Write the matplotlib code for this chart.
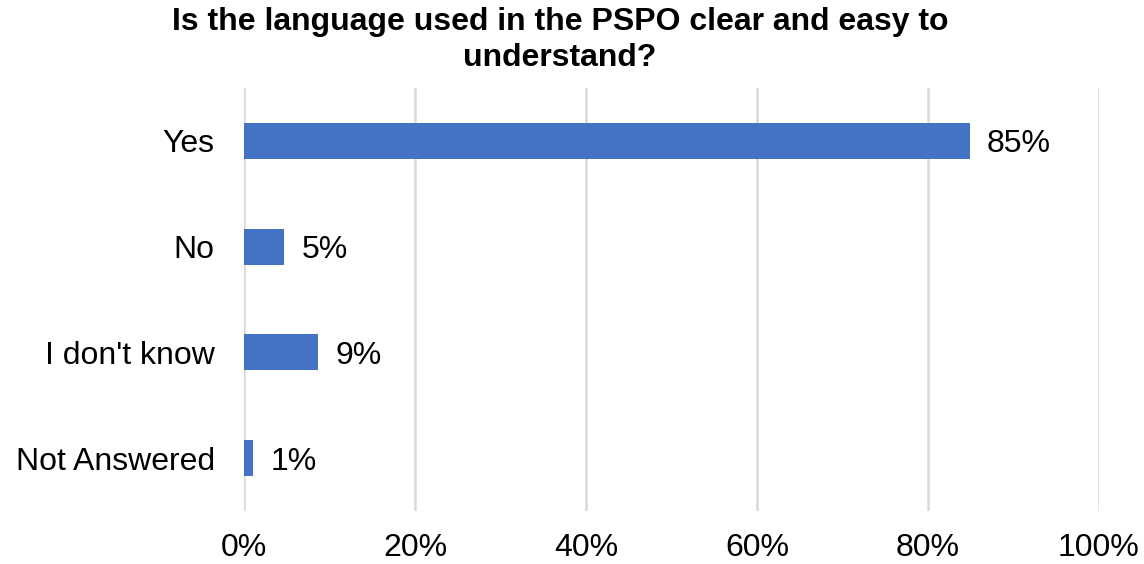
import matplotlib.pyplot as plt
from matplotlib.ticker import FuncFormatter

categories = ["Yes", "No", "I don't know", "Not Answered"]
shares = [0.849, 0.047, 0.087, 0.011]
labels = ["85%", "5%", "9%", "1%"]
ticks = [0, 0.2, 0.4, 0.6, 0.8, 1.0]

plt.rcParams['font.family'] = ['Liberation Sans', 'DejaVu Sans']

fig = plt.figure(figsize=(11.44, 5.64), dpi=100)
ax = fig.add_axes([244 / 1144, 1 - 511 / 564, 855 / 1144, 423 / 564])

ypos = list(range(len(categories)))
bars = ax.barh(ypos, shares, height=0.34, color="#4472C4", zorder=3)
for bar, lab in zip(bars, labels):
    ax.text(bar.get_width() + 0.02, bar.get_y() + bar.get_height() / 2, lab,
            va="center_baseline", ha="left", fontsize=23, color="#000000")

ax.set_xlim(0, 1.0)
ax.set_ylim(len(categories) - 0.5, -0.5)
ax.set_yticks(ypos)
ax.set_yticklabels(categories, fontsize=23, va="center_baseline")
ax.set_xticks(ticks)
ax.xaxis.set_major_formatter(FuncFormatter(lambda v, p: f"{v * 100:.0f}%"))
ax.tick_params(axis="x", labelsize=23, length=0, pad=16)
ax.tick_params(axis="y", length=0, pad=21)
ax.grid(axis="x", color="#D9D9D9", linewidth=1.8, zorder=0)
for s in ax.spines.values():
    s.set_visible(False)

fig.text(560 / 1144, 1 - 40 / 564,
         "Is the language used in the PSPO clear and easy to\nunderstand?",
         ha="center", va="center", fontsize=23, fontweight="bold", linespacing=1.25)

fig.savefig("out.png", dpi=100)
